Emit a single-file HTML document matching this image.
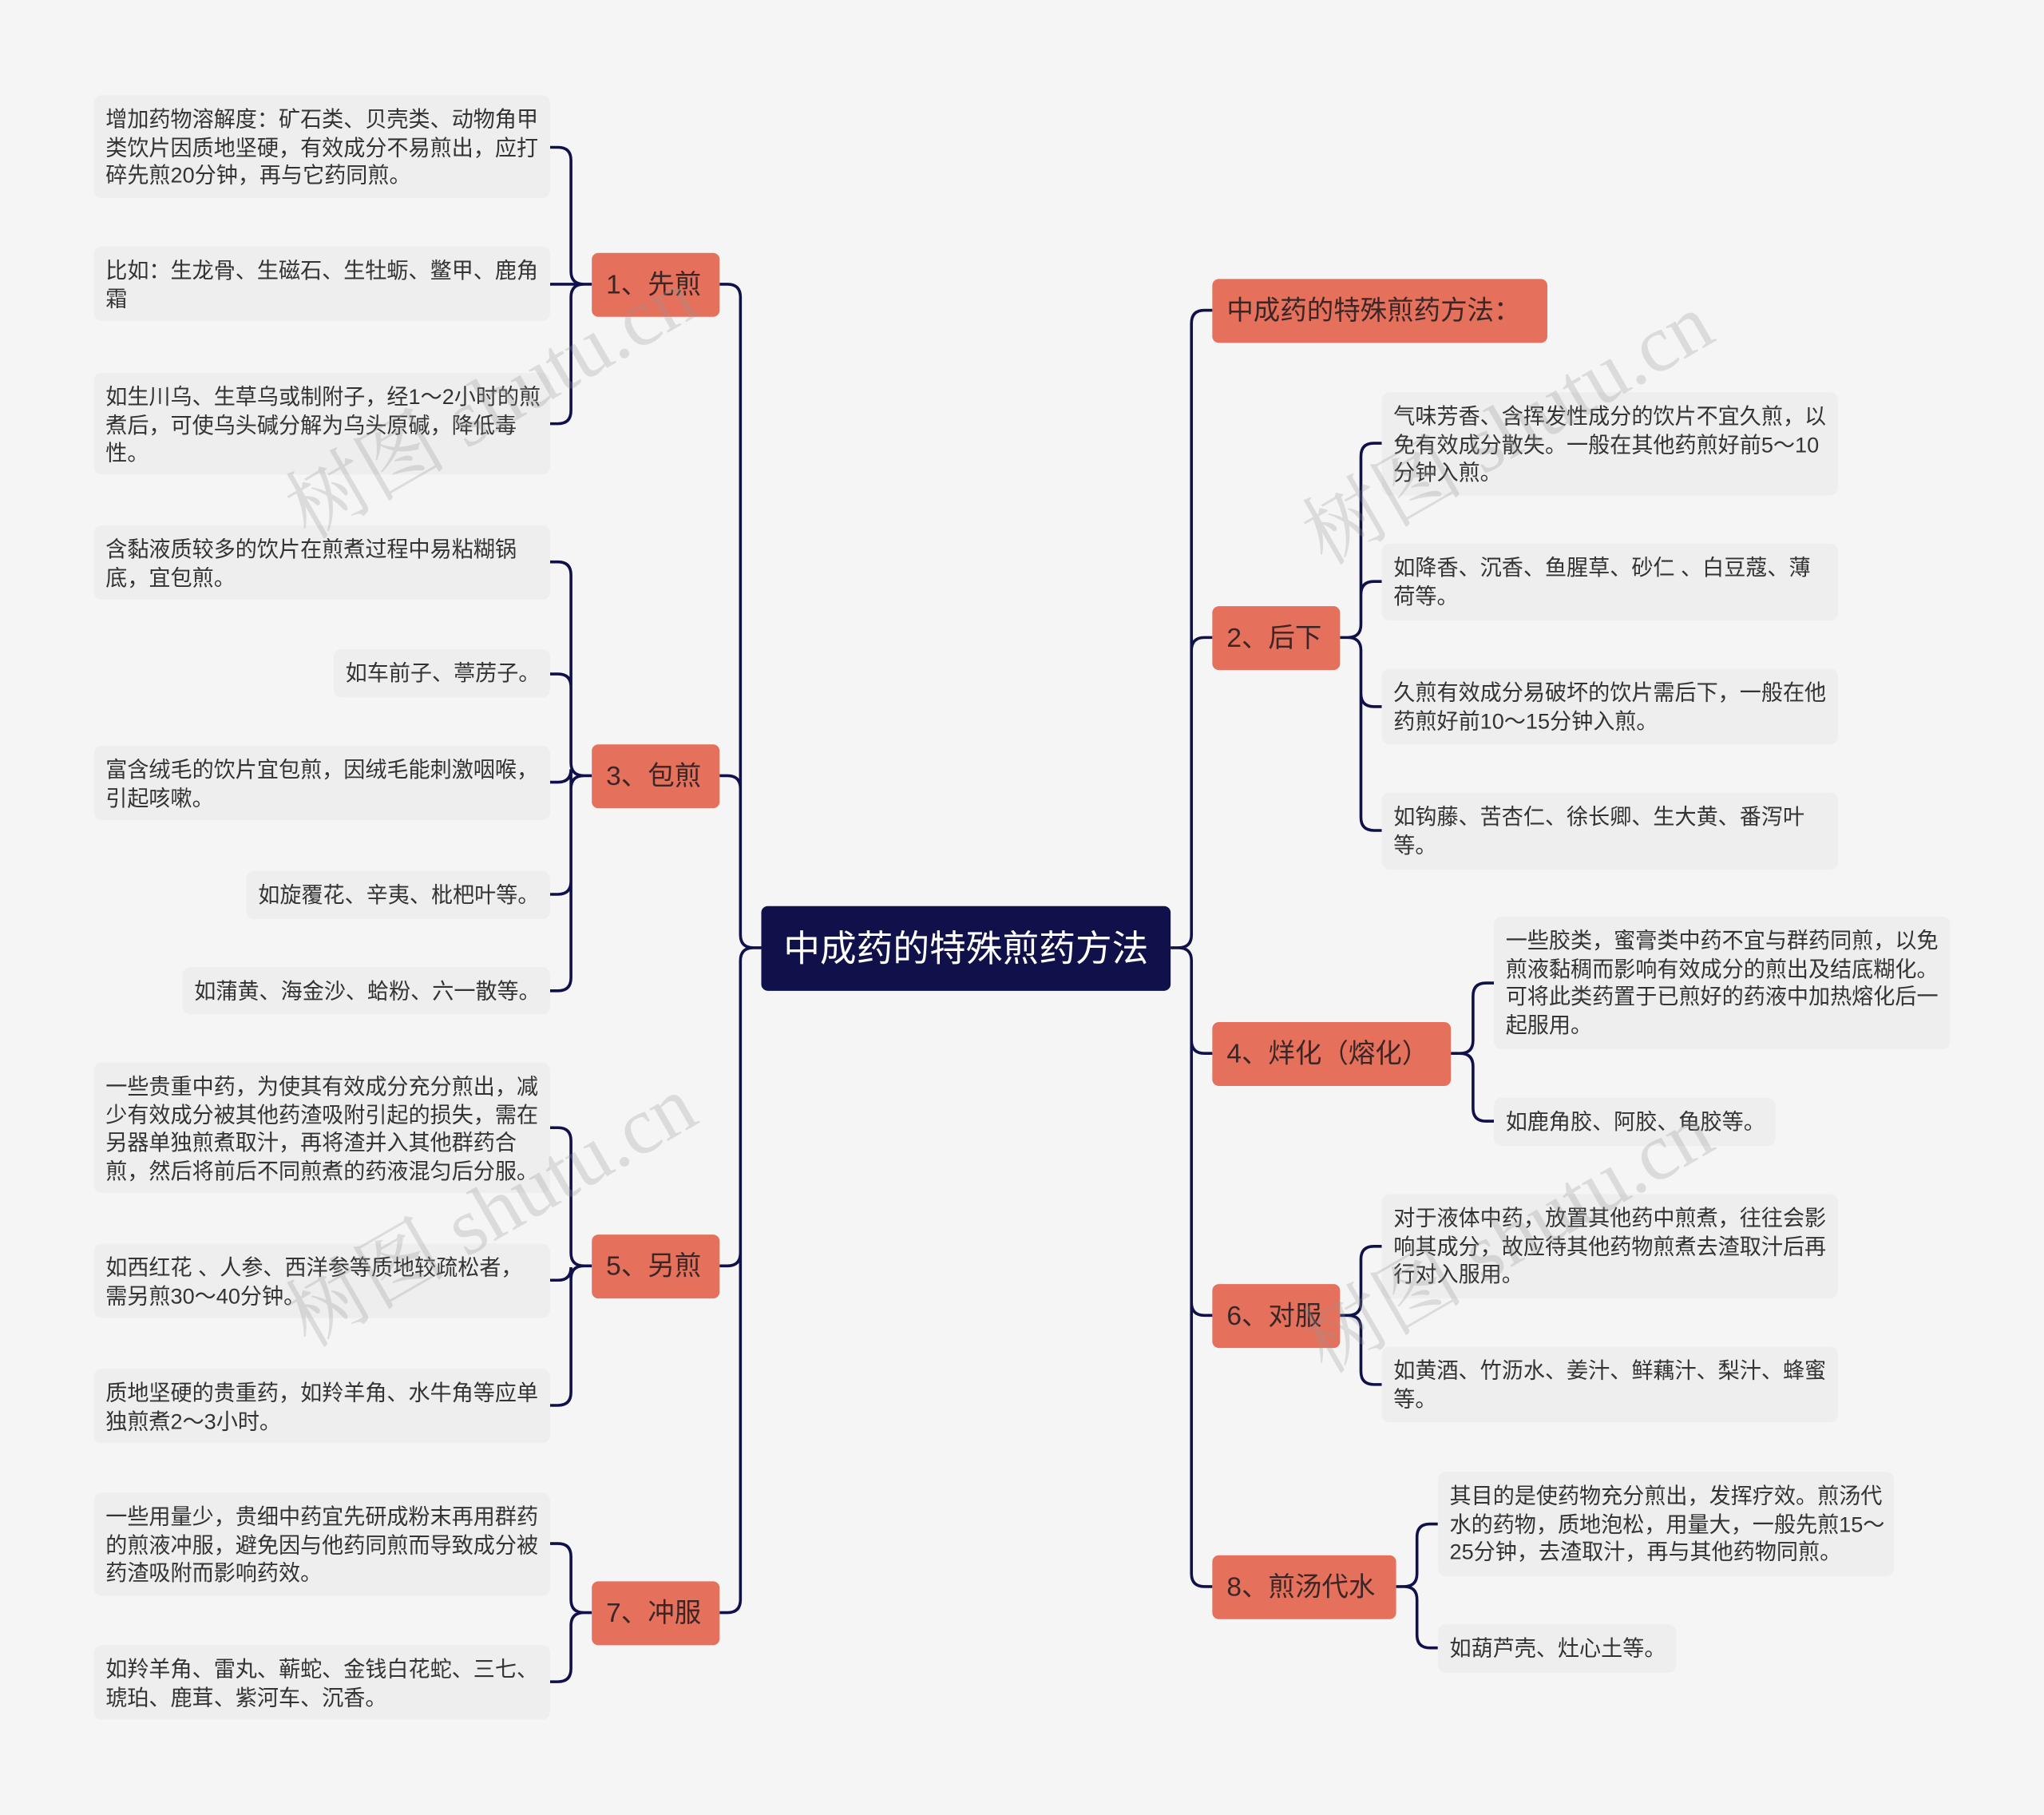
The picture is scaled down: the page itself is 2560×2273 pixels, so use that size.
<!DOCTYPE html>
<html><head><meta charset="utf-8"><style>
html,body{margin:0;padding:0;background:#f5f5f5;overflow:hidden;width:2560px;height:2273px}
#st{position:absolute;left:0;top:0;width:1568px;height:1392px;transform:scale(1.632653);transform-origin:0 0;font-family:"Liberation Sans","Noto Sans CJK SC",sans-serif}
.n{position:absolute;background:#e5705b;color:#3a2626;border-radius:5px;font-size:20.5px;line-height:49px;padding-left:11px;box-sizing:border-box;white-space:nowrap}
.l{position:absolute;background:#eeeeee;color:#333;border-radius:6px;font-size:16.6px;line-height:21.5px;padding:8px 7px 0 9px;box-sizing:border-box;overflow:hidden}
.c{position:absolute;left:584px;top:695px;width:314px;height:65px;background:#10114a;color:#fff;border-radius:5px;font-size:28px;line-height:65px;text-align:center}
.w{position:absolute;font-size:62px;color:rgba(150,150,150,0.28);transform:rotate(-30deg);white-space:nowrap;font-family:"Liberation Serif","Noto Serif CJK SC",serif}
svg{position:absolute;left:0;top:0}
</style></head><body><div id="st">
<svg id="sv" width="1568" height="1392"></svg>
<div class="c">中成药的特殊煎药方法</div>
<div class="n" style="left:454px;top:194px;width:98px">1、先煎</div>
<div class="n" style="left:454px;top:571px;width:98px">3、包煎</div>
<div class="n" style="left:454px;top:947px;width:98px">5、另煎</div>
<div class="n" style="left:454px;top:1213px;width:98px">7、冲服</div>
<div class="n" style="left:930px;top:214px;width:257px">中成药的特殊煎药方法：</div>
<div class="n" style="left:930px;top:465px;width:98px">2、后下</div>
<div class="n" style="left:930px;top:784px;width:183px">4、烊化（熔化）</div>
<div class="n" style="left:930px;top:985px;width:98px">6、对服</div>
<div class="n" style="left:930px;top:1193px;width:141px">8、煎汤代水</div>

<div class="l" style="left:72px;top:73px;width:350px;height:79px">增加药物溶解度：矿石类、贝壳类、动物角甲类饮片因质地坚硬，有效成分不易煎出，应打碎先煎20分钟，再与它药同煎。</div>
<div class="l" style="left:72px;top:189px;width:350px;height:57px">比如：生龙骨、生磁石、生牡蛎、鳖甲、鹿角霜</div>
<div class="l" style="left:72px;top:286px;width:350px;height:78px">如生川乌、生草乌或制附子，经1～2小时的煎煮后，可使乌头碱分解为乌头原碱，降低毒性。</div>
<div class="l" style="left:72px;top:403px;width:350px;height:57px">含黏液质较多的饮片在煎煮过程中易粘糊锅底，宜包煎。</div>
<div class="l" style="left:256px;top:498px;width:166px;height:37px">如车前子、葶苈子。</div>
<div class="l" style="left:72px;top:572px;width:350px;height:57px">富含绒毛的饮片宜包煎，因绒毛能刺激咽喉，引起咳嗽。</div>
<div class="l" style="left:189px;top:668px;width:233px;height:37px">如旋覆花、辛夷、枇杷叶等。</div>
<div class="l" style="left:140px;top:742px;width:282px;height:36px">如蒲黄、海金沙、蛤粉、六一散等。</div>
<div class="l" style="left:72px;top:815px;width:350px;height:100px">一些贵重中药，为使其有效成分充分煎出，减少有效成分被其他药渣吸附引起的损失，需在另器单独煎煮取汁，再将渣并入其他群药合煎，然后将前后不同煎煮的药液混匀后分服。</div>
<div class="l" style="left:72px;top:954px;width:350px;height:57px">如西红花 、人参、西洋参等质地较疏松者，需另煎30～40分钟。</div>
<div class="l" style="left:72px;top:1050px;width:350px;height:57px">质地坚硬的贵重药，如羚羊角、水牛角等应单独煎煮2～3小时。</div>
<div class="l" style="left:72px;top:1145px;width:350px;height:79px">一些用量少，贵细中药宜先研成粉末再用群药的煎液冲服，避免因与他药同煎而导致成分被药渣吸附而影响药效。</div>
<div class="l" style="left:72px;top:1262px;width:350px;height:57px">如羚羊角、雷丸、蕲蛇、金钱白花蛇、三七、琥珀、鹿茸、紫河车、沉香。</div>

<div class="l" style="left:1060px;top:301px;width:350px;height:79px">气味芳香、含挥发性成分的饮片不宜久煎，以免有效成分散失。一般在其他药煎好前5～10分钟入煎。</div>
<div class="l" style="left:1060px;top:417px;width:350px;height:59px">如降香、沉香、鱼腥草、砂仁 、白豆蔻、薄荷等。</div>
<div class="l" style="left:1060px;top:513px;width:350px;height:58px">久煎有效成分易破坏的饮片需后下，一般在他药煎好前10～15分钟入煎。</div>
<div class="l" style="left:1060px;top:608px;width:350px;height:59px">如钩藤、苦杏仁、徐长卿、生大黄、番泻叶等。</div>
<div class="l" style="left:1146px;top:703px;width:350px;height:102px">一些胶类，蜜膏类中药不宜与群药同煎，以免煎液黏稠而影响有效成分的煎出及结底糊化。可将此类药置于已煎好的药液中加热熔化后一起服用。</div>
<div class="l" style="left:1146px;top:842px;width:216px;height:37px">如鹿角胶、阿胶、龟胶等。</div>
<div class="l" style="left:1060px;top:916px;width:350px;height:80px">对于液体中药，放置其他药中煎煮，往往会影响其成分，故应待其他药物煎煮去渣取汁后再行对入服用。</div>
<div class="l" style="left:1060px;top:1033px;width:350px;height:58px">如黄酒、竹沥水、姜汁、鲜藕汁、梨汁、蜂蜜等。</div>
<div class="l" style="left:1103px;top:1129px;width:350px;height:80px">其目的是使药物充分煎出，发挥疗效。煎汤代水的药物，质地泡松，用量大，一般先煎15～25分钟，去渣取汁，再与其他药物同煎。</div>
<div class="l" style="left:1103px;top:1246px;width:183px;height:37px">如葫芦壳、灶心土等。</div>

<div class="w" style="left:200px;top:260px">树图 shutu.cn</div>
<div class="w" style="left:200px;top:880px">树图 shutu.cn</div>
<div class="w" style="left:980px;top:280px">树图 shutu.cn</div>
<div class="w" style="left:980px;top:900px">树图 shutu.cn</div>
</div>
<script>
var P=[];var r=10;
function br(px,py,bx,cx,cy){
 var d=cx<px?-1:1;
 if(Math.abs(cy-py)<2){P.push("M"+px+" "+py+"H"+cx);return;}
 var s=cy>py?1:-1;
 P.push("M"+px+" "+py+"H"+(bx-d*r)+"Q"+bx+" "+py+" "+bx+" "+(py+s*r)+"V"+(cy-s*r)+"Q"+bx+" "+cy+" "+(bx+d*r)+" "+cy+"H"+cx);
}
[218,595,971,1237].forEach(function(y){br(584,727,568,552,y);});
[238,489,808,1009,1217].forEach(function(y){br(898,727,914,930,y);});
[113,218,325].forEach(function(y){br(454,218,438,422,y);});
[431,517,600,686,760].forEach(function(y){br(454,595,438,422,y);});
[865,982,1078].forEach(function(y){br(454,971,438,422,y);});
[1184,1290].forEach(function(y){br(454,1237,438,422,y);});
[340,446,542,637].forEach(function(y){br(1028,489,1044,1060,y);});
[754,860].forEach(function(y){br(1113,808,1130,1146,y);});
[956,1062].forEach(function(y){br(1028,1009,1044,1060,y);});
[1169,1264].forEach(function(y){br(1071,1217,1087,1103,y);});
document.getElementById("sv").innerHTML='<path d="'+P.join("")+'" fill="none" stroke="#10114a" stroke-width="2.2"/>';
</script>
</body></html>
